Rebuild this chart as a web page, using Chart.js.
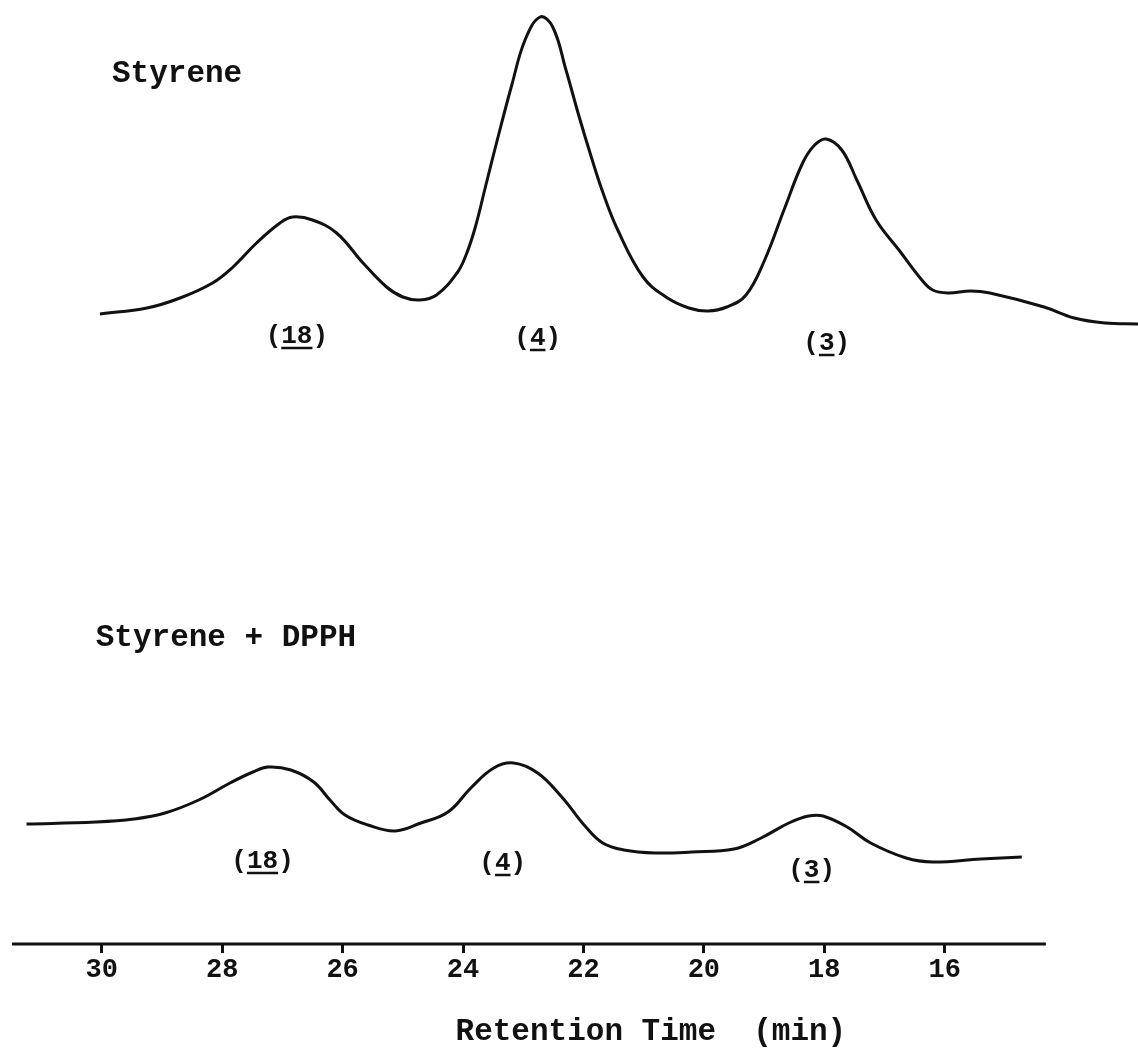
<!DOCTYPE html>
<html>
<head>
<meta charset="utf-8">
<title>Styrene / Styrene + DPPH chromatograms</title>
<script src="https://cdn.jsdelivr.net/npm/chart.js@4.4.1/dist/chart.umd.min.js"></script>
<style>
  html, body { margin: 0; padding: 0; background: #fff; }
  #wrap { width: 1138px; height: 1052px; }
</style>
</head>
<body>
<div id="wrap"><canvas id="chart" width="1138" height="1052"></canvas></div>
<script>
// Chromatogram traces (time in min, signal in arbitrary units)
const xTicks = [30, 28, 26, 24, 22, 20, 18, 16];

const styreneTime = [30.03, 29.25, 28.70, 28.16, 27.82, 27.43, 27.04, 26.83, 26.50, 26.10,
    25.66, 25.27, 25.00, 24.72, 24.44, 24.10, 23.95, 23.80, 23.62, 23.41,
    23.19, 22.97, 22.72, 22.51, 22.29, 22.08, 21.88, 21.68, 21.43, 21.01,
    20.63, 20.25, 19.93, 19.62, 19.30, 18.99, 18.67, 18.36, 18.16, 17.97,
    17.71, 17.46, 17.14, 16.76, 16.38, 16.20, 15.95, 15.57, 15.25, 14.35,
    13.85, 13.34, 12.79];
const styreneSignal = [630, 636, 646, 661, 677, 701, 721, 727, 724, 711,
    681, 657, 647, 644, 649, 671, 689, 716, 759, 809,
    859, 904, 927, 917, 874, 829, 789, 752, 714, 667,
    647, 636, 633, 637, 649, 684, 734, 781, 799, 805,
    794, 764, 724, 694, 664, 654, 651, 653, 651, 637,
    626, 621, 620];

const dpphTime = [31.25, 30.10, 29.47, 28.95, 28.39, 27.87, 27.49, 27.24, 26.86, 26.48,
    26.21, 25.96, 25.58, 25.13, 24.70, 24.25, 23.87, 23.49, 23.16, 22.76,
    22.36, 21.96, 21.68, 21.33, 20.81, 20.20, 19.50, 19.05, 18.59, 18.26,
    18.02, 17.62, 17.23, 16.64, 16.20, 15.40, 14.72];
const dpphSignal = [120, 122, 125, 131, 144, 161, 172, 177, 174, 162,
    144, 129, 119, 113, 121, 132, 156, 176, 181, 171,
    147, 117, 101, 94, 91, 92, 95, 106, 121, 128,
    128, 117, 101, 86, 82, 85, 87];

const traceNames = ['Styrene', 'Styrene + DPPH'];
const peakNumbers = ['18', '4', '3'];
const axisTitle = 'Retention Time  (min)';

// where the text goes (in axis units)
const traceNameAt = [{ t: 29.83, v: 862 }, { t: 30.10, v: 298 }];
const peakLabelAt = [
    [{ t: 26.76, v: 601 }, { t: 22.76, v: 599 }, { t: 17.96, v: 594 }],
    [{ t: 27.33, v: 76 }, { t: 23.34, v: 74 }, { t: 18.21, v: 67 }]
];
const axisSpan = [31.49, 14.32];
const titleCenter = 20.88;

const INK = '#111';
const MONO = '"Liberation Mono", "Courier New", monospace';

const toPoints = (ts, vs) => ts.map((t, i) => ({ x: t, y: vs[i] }));

const annotate = {
    id: 'annotate',
    afterDraw(chart) {
        const { ctx, chartArea } = chart;
        const x = chart.scales.x, y = chart.scales.y;
        ctx.save();
        ctx.strokeStyle = INK;
        ctx.fillStyle = INK;

        // baseline of the time axis
        ctx.lineWidth = 3;
        ctx.beginPath();
        ctx.moveTo(x.getPixelForValue(axisSpan[0]), chartArea.bottom);
        ctx.lineTo(x.getPixelForValue(axisSpan[1]), chartArea.bottom);
        ctx.stroke();

        // trace names
        ctx.font = 'bold 31px ' + MONO;
        ctx.textAlign = 'left';
        ctx.textBaseline = 'alphabetic';
        traceNames.forEach((name, i) => {
            const p = traceNameAt[i];
            ctx.fillText(name, x.getPixelForValue(p.t), y.getPixelForValue(p.v));
        });

        // peak labels like (18) with the number underlined
        ctx.font = 'bold 26px ' + MONO;
        ctx.lineWidth = 2.5;
        peakLabelAt.forEach(row => {
            row.forEach((p, j) => {
                const num = peakNumbers[j];
                const full = '(' + num + ')';
                const w = ctx.measureText(full).width;
                const wp = ctx.measureText('(').width;
                const wn = ctx.measureText(num).width;
                const cx = x.getPixelForValue(p.t);
                const by = y.getPixelForValue(p.v);
                const left = cx - w / 2;
                ctx.fillText(full, left, by);
                ctx.beginPath();
                ctx.moveTo(left + wp, by + 5);
                ctx.lineTo(left + wp + wn, by + 5);
                ctx.stroke();
            });
        });

        // axis title
        ctx.font = 'bold 31px ' + MONO;
        ctx.textAlign = 'center';
        ctx.fillText(axisTitle, x.getPixelForValue(titleCenter), chartArea.bottom + 96);
        ctx.restore();
    }
};

new Chart(document.getElementById('chart'), {
    type: 'line',
    data: {
        datasets: [
            {
                label: traceNames[0],
                data: toPoints(styreneTime, styreneSignal),
                borderColor: INK,
                borderWidth: 3,
                pointRadius: 0,
                tension: 0.4,
                fill: false
            },
            {
                label: traceNames[1],
                data: toPoints(dpphTime, dpphSignal),
                borderColor: INK,
                borderWidth: 3,
                pointRadius: 0,
                tension: 0.4,
                fill: false
            }
        ]
    },
    options: {
        responsive: false,
        animation: false,
        devicePixelRatio: 1,
        layout: { padding: 0 },
        plugins: {
            legend: { display: false },
            tooltip: { enabled: false },
            title: { display: false }
        },
        scales: {
            x: {
                type: 'linear',
                reverse: true,
                min: 12.79,
                max: 31.69,
                afterBuildTicks: (scale) => {
                    scale.ticks = xTicks.map(v => ({ value: v }));
                },
                afterFit: (scale) => {
                    scale.height = 108;
                },
                border: { display: false },
                grid: {
                    drawOnChartArea: false,
                    drawTicks: true,
                    tickLength: 9,
                    tickWidth: 3,
                    tickColor: INK
                },
                ticks: {
                    color: INK,
                    padding: 1,
                    maxRotation: 0,
                    font: { family: MONO, size: 27, weight: 'bold' },
                    callback: (v) => String(v)
                }
            },
            y: {
                display: false,
                min: 0,
                max: 944
            }
        }
    },
    plugins: [annotate]
});
</script>
</body>
</html>
